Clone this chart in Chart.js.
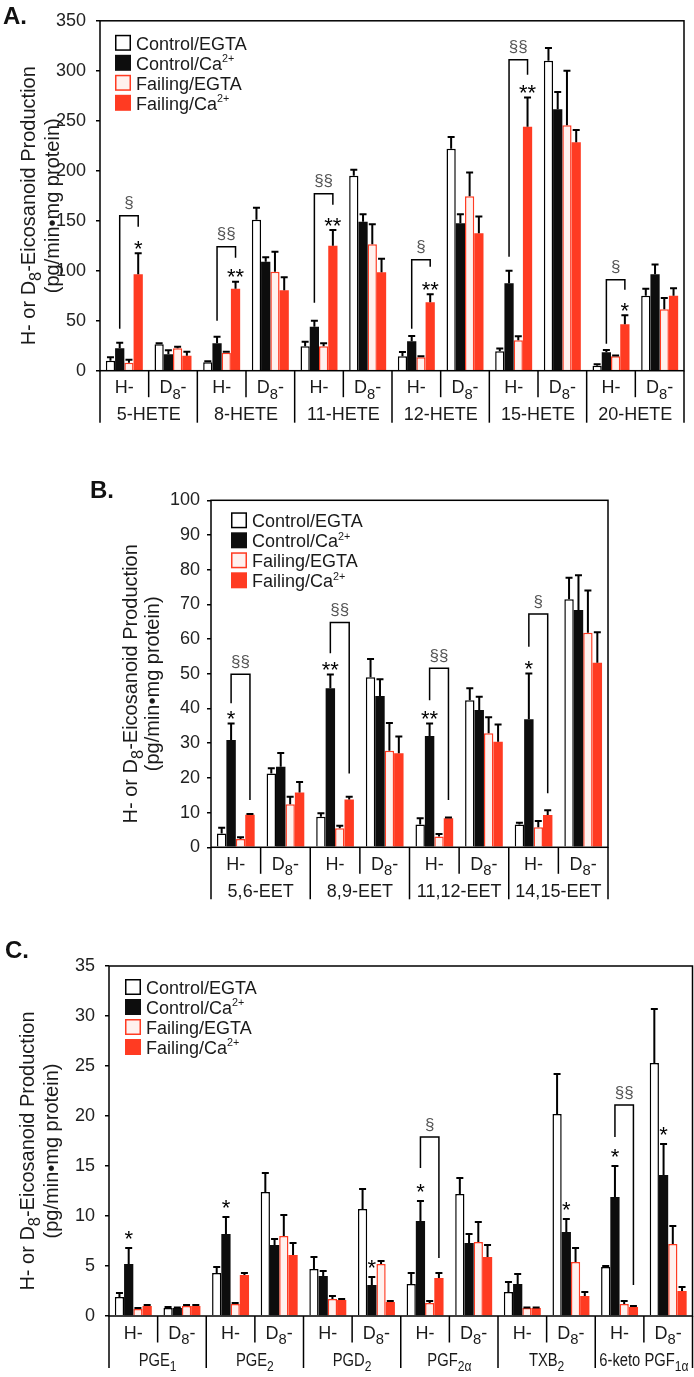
<!DOCTYPE html>
<html lang="en">
<head>
<meta charset="UTF-8" />
<title>H- and D8-eicosanoid production</title>
<script src="https://cdn.jsdelivr.net/npm/chart.js"></script>
<style>
  body { margin: 0; background: #fff; width: 694px; height: 1377px; position: relative; overflow: hidden; }
  canvas { position: absolute; left: 0; }
</style>
</head>
<body>
<canvas id="chartA" width="694" height="440" style="top:0px"></canvas>
<canvas id="chartB" width="694" height="470" style="top:440px"></canvas>
<canvas id="chartC" width="694" height="457" style="top:920px"></canvas>

<script>
// ---------- shared ----------
const seriesNames = ['Control/EGTA', 'Control/Ca^{2+}', 'Failing/EGTA', 'Failing/Ca^{2+}'];
const subLabels = ['H-', 'D_{8}-'];
const yTitle = ['H- or D_{8}-Eicosanoid Production', '(pg/min\u2022mg protein)'];

// ---------- panel A : HETEs ----------
const aGroups = ['5-HETE', '8-HETE', '11-HETE', '12-HETE', '15-HETE', '20-HETE'];
const aCtrlEgta    = [10, 26.5, 8.5, 151, 24.5, 195, 14.5, 222, 19.5, 310, 5, 75];
const aCtrlEgtaErr = [3.5, 1, 1, 12, 4.5, 6, 4.3, 11.7, 2.7, 12.7, 1.4, 7];
const aCtrlCa      = [22.5, 16.5, 27.5, 109, 44, 149, 29.5, 147.5, 87.5, 261.5, 18.5, 96.5];
const aCtrlCaErr   = [5.5, 4, 6.5, 4.5, 6, 7.5, 5.3, 9, 12.6, 17.3, 2.3, 9.7];
const aFailEgta    = [8, 22.5, 18, 99, 24.5, 126.5, 13.5, 174.5, 30.5, 245.5, 14.5, 61.5];
const aFailEgtaErr = [3, 1.5, 1, 20, 3, 20, 1, 23.7, 4, 54.6, 0.7, 11.3];
const aFailCa      = [96.5, 15, 82, 80.5, 125, 98.5, 68.5, 137.5, 244, 228.5, 46.5, 75];
const aFailCaErr   = [21, 4, 7, 13, 15.7, 13.6, 8, 16.7, 29.4, 12.3, 9, 7.4];
// [category, bracket top, left leg end, right leg end, label]
const aBrackets = [[0, 155, 42, 144, '§'], [2, 124, 50, 113, '§§'], [4, 177, 68, 166, '§§'],
                   [6, 111, 42, 104, '§'], [8, 311, 114, 296, '§§'], [10, 91, 27, 81, '§']];
// [category, series, label]
const aStars = [[0, 3, '*'], [2, 3, '**'], [4, 3, '**'], [6, 3, '**'], [8, 3, '**'], [10, 3, '*']];

// ---------- panel B : EETs ----------
const bGroups = ['5,6-EET', '8,9-EET', '11,12-EET', '14,15-EET'];
const bCtrlEgta    = [4.0, 21.3, 8.8, 49, 6.6, 42.4, 6.6, 71.5];
const bCtrlEgtaErr = [1.6, 1.5, 1, 5.3, 1.8, 3.4, 0.5, 6.2];
const bCtrlCa      = [30.9, 23.2, 45.8, 43.6, 32.1, 39.6, 36.9, 68.4];
const bCtrlCaErr   = [4.8, 4, 4, 4.8, 3.6, 3.8, 13.2, 10];
const bFailEgta    = [2.4, 12.4, 5.5, 27.8, 3.1, 32.9, 5.8, 61.8];
const bFailEgtaErr = [0.5, 2.2, 0.7, 8, 0.7, 4.6, 1.8, 12.2];
const bFailCa      = [9.4, 15.8, 13.8, 27.1, 8.4, 30.4, 9.3, 53.2];
const bFailCaErr   = [0.2, 3, 0.8, 4.8, 0.2, 5, 1.4, 8.8];
const bBrackets = [[0, 49.9, 41.5, 13.6, '§§'], [2, 64.8, 55.9, 21.3, '§§'],
                   [4, 51.6, 42.4, 13.6, '§§'], [6, 67.2, 57.8, 15.6, '§']];
const bStars = [[0, 1, '*'], [2, 1, '**'], [4, 1, '**'], [6, 1, '*']];

// ---------- panel C : prostanoids ----------
const cGroups = ['PGE_{1}', 'PGE_{2}', 'PGD_{2}', 'PGF_{2\u03b1}', 'TXB_{2}', '6-keto PGF_{1\u03b1}'];
const cCtrlEgta    = [1.9, 0.8, 4.3, 12.4, 4.7, 10.7, 3.2, 12.2, 2.4, 20.2, 4.9, 25.3];
const cCtrlEgtaErr = [0.4, 0.1, 0.6, 1.9, 1.2, 2, 1.1, 1.6, 1, 4, 0.1, 5.4];
const cCtrlCa      = [5.2, 0.8, 8.2, 7.1, 4.0, 3.1, 9.5, 7.3, 3.2, 8.4, 11.9, 14.1];
const cCtrlCaErr   = [1.6, 0.05, 1.7, 0.6, 0.5, 0.8, 2, 0.9, 1, 1.3, 3.1, 3.1];
const cFailEgta    = [0.7, 1.0, 1.2, 8.0, 1.7, 5.2, 1.3, 7.4, 0.8, 5.4, 1.2, 7.2];
const cFailEgtaErr = [0.1, 0.1, 0.1, 2.1, 0.3, 0.3, 0.2, 2, 0.05, 1.4, 0.3, 1.8];
const cFailCa      = [1.0, 1.0, 4.1, 6.1, 1.6, 1.4, 3.8, 5.9, 0.8, 2.0, 0.9, 2.5];
const cFailCaErr   = [0.1, 0.1, 0.2, 1.2, 0.1, 0.1, 0.5, 1.2, 0.05, 0.4, 0.1, 0.4];
const cBrackets = [[6, 17.9, 14.8, 5.8, '§'], [10, 21.1, 17.9, 3.1, '§§']];
const cStars = [[0, 1, '*'], [2, 1, '*'], [5, 1, '*'], [6, 1, '*'], [9, 1, '*'], [10, 1, '*'], [11, 1, '*']];

// ---------- drawing helpers ----------
const FONT = "'Liberation Sans', Arial, sans-serif";
const INK = '#1a1a1a';
const seriesStyle = [
  { fill: '#ffffff', line: '#000000', width: 1.5 },
  { fill: '#0d0d0d', line: '#0d0d0d', width: 0 },
  { fill: '#fff1ee', line: '#ff3b22', width: 1.5 },
  { fill: '#ff3b22', line: '#ff3b22', width: 0 }
];

function richParts(str) {
  const parts = [];
  const re = /([_^])\{([^}]*)\}|([^_^]+)/g;
  let m;
  while ((m = re.exec(str))) {
    if (m[3]) parts.push({ t: m[3], k: 'n' });
    else parts.push({ t: m[2], k: m[1] === '_' ? 'sub' : 'sup' });
  }
  return parts;
}

function richDraw(ctx, str, x, y, size, align) {
  const parts = richParts(str);
  const fontOf = p => (p.k === 'n' ? size : p.k === 'sub' ? size * 0.82 : size * 0.6) + 'px ' + FONT;
  let w = 0;
  parts.forEach(p => { ctx.font = fontOf(p); p.w = ctx.measureText(p.t).width; w += p.w; });
  let cx = align === 'center' ? x - w / 2 : align === 'right' ? x - w : x;
  ctx.textAlign = 'left';
  ctx.textBaseline = 'alphabetic';
  parts.forEach(p => {
    ctx.font = fontOf(p);
    const dy = p.k === 'sub' ? size * 0.3 : p.k === 'sup' ? -size * 0.42 : 0;
    ctx.fillText(p.t, cx, y + dy);
    cx += p.w;
  });
}

function panelPlugin(p) {
  return {
    id: 'panel' + p.letter,
    afterDatasetsDraw(chart) {
      const ctx = chart.ctx, a = chart.chartArea, ys = chart.scales.y;
      ctx.save();
      // error bars (upper only)
      ctx.strokeStyle = '#000';
      ctx.lineWidth = 2;
      chart.data.datasets.forEach((ds, di) => {
        chart.getDatasetMeta(di).data.forEach((bar, i) => {
          const y0 = ys.getPixelForValue(ds.data[i]);
          const y1 = ys.getPixelForValue(ds.data[i] + ds.errors[i]);
          ctx.beginPath();
          ctx.moveTo(bar.x, y0);
          ctx.lineTo(bar.x, y1);
          ctx.moveTo(bar.x - 3.5, y1);
          ctx.lineTo(bar.x + 3.5, y1);
          ctx.stroke();
        });
      });
      // frame
      ctx.lineWidth = 1.5;
      ctx.strokeRect(a.left, a.top, a.right - a.left, a.bottom - a.top);
      ctx.restore();
    },
    afterDraw(chart) {
      const ctx = chart.ctx, a = chart.chartArea, xs = chart.scales.x, ys = chart.scales.y;
      const n = chart.data.labels.length;
      const px = i => xs.getPixelForValue(i);
      ctx.save();
      ctx.fillStyle = INK;
      ctx.strokeStyle = '#000';
      ctx.lineWidth = 1.5;

      // category separators
      for (let i = 0; i <= n; i++) {
        const xx = i === 0 ? a.left : i === n ? a.right : (px(i - 1) + px(i)) / 2;
        ctx.beginPath();
        ctx.moveTo(xx, a.bottom);
        ctx.lineTo(xx, a.bottom + (i % 2 === 0 ? 52 : 26.5));
        ctx.stroke();
      }
      // row 1: H- / D8-
      for (let i = 0; i < n; i++) richDraw(ctx, subLabels[i % 2], px(i), a.bottom + 22.5, 18, 'center');
      // row 2: analyte names
      p.groups.forEach((g, gi) => {
        const cx = (px(2 * gi) + px(2 * gi + 1)) / 2;
        ctx.save();
        ctx.translate(cx, a.bottom + 49.5);
        ctx.scale(p.groupScaleX, 1);
        richDraw(ctx, g, 0, 0, 18, 'center');
        ctx.restore();
      });

      // legend
      seriesNames.forEach((name, k) => {
        const bx = a.left + p.legendDx, by = a.top + p.legendDy + k * 20;
        const st = seriesStyle[k];
        ctx.fillStyle = st.fill;
        ctx.fillRect(bx, by - 8, 16, 16);
        if (st.width) {
          ctx.strokeStyle = st.line;
          ctx.lineWidth = 1.5;
          ctx.strokeRect(bx + 0.75, by - 7.25, 14.5, 14.5);
        }
        ctx.fillStyle = INK;
        richDraw(ctx, name, bx + 21, by + 7, 18, 'left');
      });

      // y title
      ctx.save();
      ctx.translate(a.left, (a.top + a.bottom) / 2 + 10);
      ctx.rotate(-Math.PI / 2);
      ctx.fillStyle = INK;
      richDraw(ctx, yTitle[0], 0, p.titleX[0], 20, 'center');
      richDraw(ctx, yTitle[1], 0, p.titleX[1], 20, 'center');
      ctx.restore();

      // significance brackets
      const barX = (cat, s) => chart.getDatasetMeta(s).data[cat].x;
      ctx.strokeStyle = '#000';
      ctx.lineWidth = 1.5;
      p.brackets.forEach(([cat, top, lEnd, rEnd, label]) => {
        const lx = barX(cat, 1), rx = barX(cat, 3), ty = ys.getPixelForValue(top);
        ctx.beginPath();
        ctx.moveTo(lx, ys.getPixelForValue(lEnd));
        ctx.lineTo(lx, ty);
        ctx.lineTo(rx, ty);
        ctx.lineTo(rx, ys.getPixelForValue(rEnd));
        ctx.stroke();
        ctx.fillStyle = '#555';
        ctx.font = '17px ' + FONT;
        ctx.textAlign = 'center';
        ctx.textBaseline = 'alphabetic';
        ctx.fillText(label, (lx + rx) / 2, ty - 7.5);
      });
      // asterisks
      ctx.fillStyle = '#000';
      ctx.font = '22px ' + FONT;
      ctx.textAlign = 'center';
      p.stars.forEach(([cat, s, label]) => {
        const ds = chart.data.datasets[s];
        const ty = ys.getPixelForValue(ds.data[cat] + ds.errors[cat]);
        ctx.fillText(label, barX(cat, s), ty + p.starDy);
      });

      // panel letter
      ctx.fillStyle = '#111';
      ctx.font = 'bold 24px ' + FONT;
      ctx.textAlign = 'left';
      ctx.fillText(p.letter + '.', p.letterPos[0], p.letterPos[1]);
      ctx.restore();
    }
  };
}

function makePanel(id, p) {
  const labels = p.groups.flatMap(g => subLabels.map(s => g + ' ' + s));
  const datasets = p.series.map((vals, k) => ({
    label: seriesNames[k],
    data: vals,
    errors: p.errors[k],
    backgroundColor: seriesStyle[k].fill,
    borderColor: seriesStyle[k].line,
    borderWidth: seriesStyle[k].width,
    categoryPercentage: 0.76,
    barPercentage: 1.0
  }));
  new Chart(document.getElementById(id), {
    type: 'bar',
    data: { labels, datasets },
    options: {
      responsive: false,
      animation: false,
      layout: { padding: { left: 0, right: p.padRight, top: p.padTop, bottom: 0 } },
      plugins: { legend: { display: false }, tooltip: { enabled: false } },
      scales: {
        x: {
          ticks: { display: false },
          grid: { display: false },
          border: { display: false },
          afterFit: s => { s.height = p.xHeight; }
        },
        y: {
          min: 0, max: p.yMax,
          ticks: { stepSize: p.yStep, color: '#222', padding: p.tickPad, font: { family: FONT, size: 18 } },
          grid: { drawOnChartArea: false, drawTicks: true, tickLength: 4, color: '#000', lineWidth: 1.5 },
          border: { display: false },
          afterFit: s => { s.width = p.yWidth; }
        }
      }
    },
    plugins: [panelPlugin(p)]
  });
}

makePanel('chartA', {
  letter: 'A', letterPos: [3, 24],
  groups: aGroups, groupScaleX: 1,
  series: [aCtrlEgta, aCtrlCa, aFailEgta, aFailCa],
  errors: [aCtrlEgtaErr, aCtrlCaErr, aFailEgtaErr, aFailCaErr],
  brackets: aBrackets, stars: aStars, starDy: 2.5,
  yMax: 350, yStep: 50, tickPad: 10,
  yWidth: 100, padRight: 10, padTop: 20.7, xHeight: 69.3,
  legendDx: 15, legendDy: 22, titleX: [-65, -41]
});

makePanel('chartB', {
  letter: 'B', letterPos: [90, 58],
  groups: bGroups, groupScaleX: 1,
  series: [bCtrlEgta, bCtrlCa, bFailEgta, bFailCa],
  errors: [bCtrlEgtaErr, bCtrlCaErr, bFailEgtaErr, bFailCaErr],
  brackets: bBrackets, stars: bStars, starDy: 2.5,
  yMax: 100, yStep: 10, tickPad: 7,
  yWidth: 211, padRight: 86, padTop: 60.3, xHeight: 62.7,
  legendDx: 20, legendDy: 20, titleX: [-74, -52]
});

makePanel('chartC', {
  letter: 'C', letterPos: [5, 38],
  groups: cGroups, groupScaleX: 0.82,
  series: [cCtrlEgta, cCtrlCa, cFailEgta, cFailCa],
  errors: [cCtrlEgtaErr, cCtrlCaErr, cFailEgtaErr, cFailCaErr],
  brackets: cBrackets, stars: cStars, starDy: -2.5,
  yMax: 35, yStep: 5, tickPad: 10,
  yWidth: 109, padRight: 1.5, padTop: 46, xHeight: 61,
  legendDx: 16, legendDy: 21, titleX: [-75, -51]
});
</script>
</body>
</html>
